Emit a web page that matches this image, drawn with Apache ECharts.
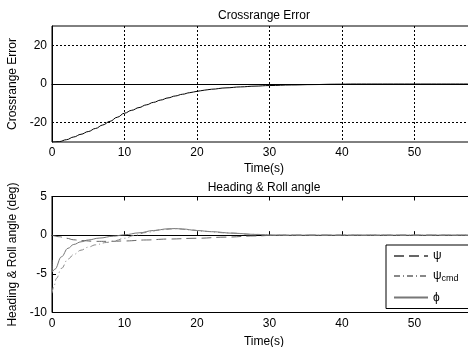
<!DOCTYPE html>
<html>
<head>
<meta charset="utf-8">
<script src="https://cdn.jsdelivr.net/npm/echarts@6/dist/echarts.min.js"></script>
<style>
  html, body { margin: 0; padding: 0; background: #fff; }
  #chart { width: 468px; height: 347px; }
</style>
</head>
<body>
<div id="chart"></div>
<script>
// crossrange error (top plot)
const tTop = [0, 1, 2, 3, 4, 5, 6, 7, 8, 9, 10, 11, 12, 13, 14, 15, 16, 17, 18, 19, 20, 21, 22, 24, 26, 28, 30, 33, 36, 39, 42, 60]
const crossErr = [-30, -29.8, -28.8, -27.4, -26.0, -24.6, -23.0, -21.2, -19.3, -17.2, -15.1, -13.6, -12.2, -10.8, -9.5, -8.3, -7.2, -6.2, -5.3, -4.5, -3.8, -3.2, -2.7, -2.0, -1.5, -1.1, -0.8, -0.5, -0.3, -0.1, 0, 0]

// heading & roll (bottom plot)
const tPsi = [0, 1, 2, 3, 4, 6, 8, 10, 13, 16, 20, 24, 28, 31, 60]
const psi = [0, -0.2, -0.4, -0.6, -0.7, -0.8, -0.8, -0.75, -0.62, -0.5, -0.4, -0.25, -0.1, 0, 0]

const tCmd = [0, 0.3, 0.6, 1.3, 2.2, 3, 4, 5, 6, 7.5, 8.6, 10, 11.3, 13, 15, 17, 19, 21, 24, 28, 31, 60]
const psiCmd = [-7.5, -6.5, -5.6, -4.3, -3.1, -2.5, -1.94, -1.55, -1.25, -0.95, -0.73, -0.4, -0.05, 0.35, 0.7, 0.83, 0.7, 0.5, 0.3, 0.1, 0, 0]

const tPhi = [0, 0.05, 0.4, 1.3, 2.2, 3, 4, 5, 6.5, 8.5, 10, 12, 14, 16, 17, 18, 20, 22, 25, 28, 31, 60]
const phi = [-3.2, -4.7, -4.4, -2.8, -1.7, -1.2, -0.86, -0.62, -0.38, -0.13, 0.05, 0.3, 0.6, 0.82, 0.85, 0.8, 0.6, 0.45, 0.25, 0.1, 0, 0]

const topYTicks = [-20, 0, 20]
const legendNames = { psi: 'ψ', psicmd: 'ψ{sub|cmd}', phi: 'ϕ' }

const pairs = (xs, ys) => xs.map((x, i) => [x, ys[i]])

const font = 'Liberation Sans, Arial, sans-serif'
const labelStyle = { color: '#000', fontSize: 12, fontFamily: font }
const dashed = { color: '#000', type: [2, 2], width: 1 }

const chart = echarts.init(document.getElementById('chart'), null, { renderer: 'canvas' })

const option = {
  animation: false,
  backgroundColor: '#fff',
  textStyle: { fontFamily: font },
  title: [
    { text: 'Crossrange Error', left: 259, top: 5, textAlign: 'center', textStyle: { ...labelStyle, fontWeight: 'normal' } },
    { text: 'Time(s)', left: 259, top: 158, textAlign: 'center', textStyle: { ...labelStyle, fontWeight: 'normal' } },
    { text: 'Heading & Roll angle', left: 259, top: 177, textAlign: 'center', textStyle: { ...labelStyle, fontWeight: 'normal' } },
    { text: 'Time(s)', left: 259, top: 331, textAlign: 'center', textStyle: { ...labelStyle, fontWeight: 'normal' } }
  ],
  grid: [
    { left: 52, right: -19, top: 26, height: 116, show: true, borderColor: '#000', borderWidth: 1, outerBoundsMode: 'none', containLabel: false },
    { left: 52, right: -19, top: 196.5, height: 116, show: true, borderColor: '#000', borderWidth: 1, outerBoundsMode: 'none', containLabel: false }
  ],
  xAxis: [
    {
      gridIndex: 0, type: 'value', min: 0, max: 60, interval: 10,
      axisLine: { lineStyle: { color: '#000' } },
      axisTick: { show: false },
      axisLabel: { ...labelStyle, margin: 5 },
      splitLine: { show: true, lineStyle: dashed }
    },
    {
      gridIndex: 1, type: 'value', min: 0, max: 60, interval: 10,
      axisLine: { lineStyle: { color: '#000' } },
      axisTick: { inside: true, length: 4, lineStyle: { color: '#000' } },
      axisLabel: { ...labelStyle, margin: 5 },
      splitLine: { show: false }
    },
    {
      gridIndex: 1, type: 'value', position: 'top', min: 0, max: 60, interval: 10,
      axisLine: { lineStyle: { color: '#000' } },
      axisTick: { inside: true, length: 4, lineStyle: { color: '#000' } },
      axisLabel: { show: false },
      splitLine: { show: false }
    }
  ],
  yAxis: [
    {
      gridIndex: 0, type: 'value', min: -30, max: 30,
      name: 'Crossrange Error', nameLocation: 'middle', nameGap: 30,
      nameTextStyle: labelStyle,
      axisLine: { show: true, lineStyle: { color: '#000' } },
      axisTick: { show: false, customValues: topYTicks },
      axisLabel: { ...labelStyle, margin: 5, customValues: topYTicks },
      splitLine: { show: true, lineStyle: dashed }
    },
    {
      gridIndex: 1, type: 'value', min: -10, max: 5, interval: 5,
      name: 'Heading & Roll angle (deg)', nameLocation: 'middle', nameGap: 30,
      nameTextStyle: labelStyle,
      axisLine: { show: true, lineStyle: { color: '#000' } },
      axisTick: { show: true, inside: true, length: 4, lineStyle: { color: '#000' } },
      axisLabel: { ...labelStyle, margin: 5 },
      splitLine: { show: false }
    }
  ],
  legend: {
    orient: 'vertical',
    left: 386, top: 245,
    padding: [5, 30, 5, 7],
    itemGap: 8,
    itemWidth: 34,
    itemHeight: 10,
    borderColor: '#000', borderWidth: 1,
    backgroundColor: '#fff',
    data: ['psi', 'psicmd', 'phi'],
    itemStyle: { opacity: 0 },
    formatter: name => legendNames[name],
    textStyle: {
      ...labelStyle, lineHeight: 12,
      rich: { sub: { fontSize: 9, fontFamily: font, color: '#000', padding: [6, 0, 0, 0] } }
    }
  },
  series: [
    {
      name: 'crossrange', type: 'line', xAxisIndex: 0, yAxisIndex: 0,
      data: pairs(tTop, crossErr), symbol: 'none', smooth: 0.4, smoothMonotone: 'x',
      lineStyle: { color: '#000', width: 1 }, itemStyle: { color: '#000' }
    },
    {
      name: 'phi', type: 'line', xAxisIndex: 1, yAxisIndex: 1,
      data: pairs(tPhi, phi), symbol: 'none', smooth: 0.4, smoothMonotone: 'x',
      lineStyle: { color: '#777', width: 1 }, itemStyle: { color: '#777' }
    },
    {
      name: 'psi', type: 'line', xAxisIndex: 1, yAxisIndex: 1,
      data: pairs(tPsi, psi), symbol: 'none', smooth: 0.4, smoothMonotone: 'x',
      lineStyle: { color: '#666', width: 1, type: [10, 5] }, itemStyle: { color: '#666' }
    },
    {
      name: 'psicmd', type: 'line', xAxisIndex: 1, yAxisIndex: 1,
      data: pairs(tCmd, psiCmd), symbol: 'none', smooth: 0.4, smoothMonotone: 'x',
      lineStyle: { color: '#888', width: 1, type: [6, 3, 1, 3] }, itemStyle: { color: '#888' }
    }
  ]
}

chart.setOption(option)
</script>
</body>
</html>
